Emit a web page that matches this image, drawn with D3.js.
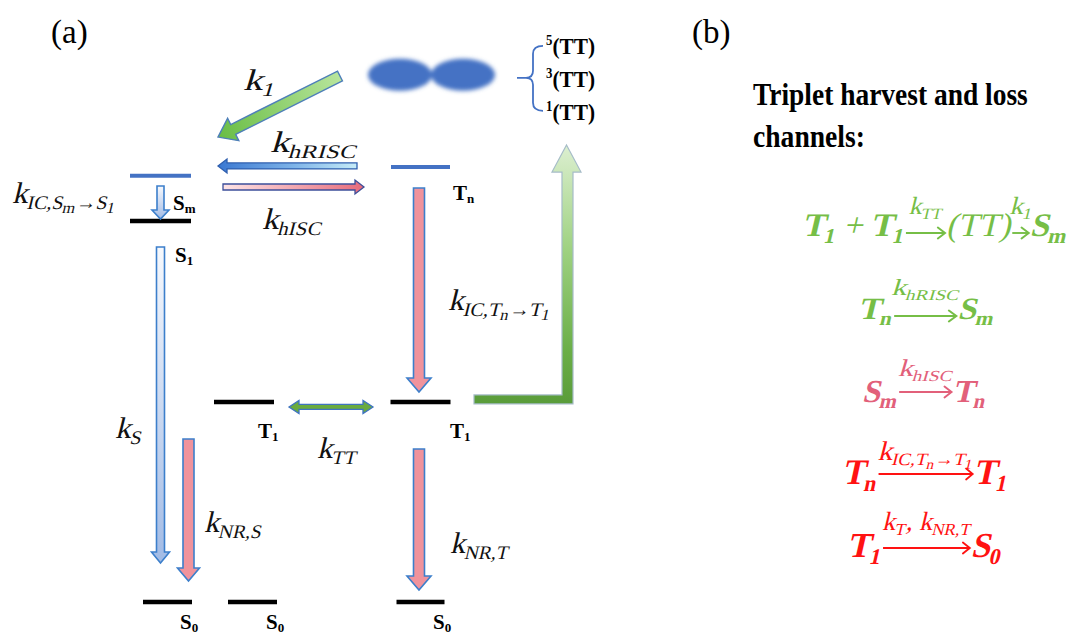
<!DOCTYPE html>
<html><head><meta charset="utf-8">
<script src="https://cdn.jsdelivr.net/npm/d3@7"></script>
<style>body{margin:0;background:#fff}svg{display:block}</style>
</head><body><svg id="c" width="1070" height="637"></svg>
<script>
// ================= DATA =================
// energy levels of the Jablonski diagram (energy in arbitrary units)
const levelIds      = ["Sm","S1","Tn","T1a","T1b","S0a","S0b","S0c"];
const levelSymbols  = ["S","S","T","T","T","S","S","S"];
const levelSubs     = ["m","1","n","1","1","0","0","0"];
const levelEnergies = [2.45, 2.19, 2.5, 1.15, 1.15, 0, 0, 0];
const levelColumns  = ["S","S","T","TL","T","S0L","S0M","T"];

// transitions: [id, startEnergy, endEnergy]
const transIds     = ["icS","kS","kNRS","kICT","kNRT","hRISC","hISC","kTT","k1","harvest"];
const transStartE  = [2.391, 2.040, 0.937, 2.379, 0.879, 2.506, 2.385, 1.121, 3.023, 1.164];
const transEndE    = [2.201, 0.224, 0.121, 1.207, 0.069, 2.506, 2.385, 1.121, 2.672, 2.626];

// rate-constant labels: parts [text, mode]
const rateLabels = [
  {id:"k1",     parts:[["k",""],["1","sub"]]},
  {id:"khRISC", parts:[["k",""],["hRISC","sub"]]},
  {id:"khISC",  parts:[["k",""],["hISC","sub"]]},
  {id:"kICS",   parts:[["k",""],["IC,S","sub"],["m","sub2"],["\u2192S","sub"],["1","sub2"]]},
  {id:"kICT",   parts:[["k",""],["IC,T","sub"],["n","sub2"],["\u2192T","sub"],["1","sub2"]]},
  {id:"kS",     parts:[["k",""],["S","sub"]]},
  {id:"kNRS",   parts:[["k",""],["NR,S","sub"]]},
  {id:"kTT",    parts:[["k",""],["TT","sub"]]},
  {id:"kNRT",   parts:[["k",""],["NR,T","sub"]]}
];
const ttStates = [["5","(TT)"],["3","(TT)"],["1","(TT)"]];
const titleLines = ["Triplet harvest and loss","channels:"];
const equations = [
  {color:"green", items:[{t:[["T",""],["1","sub"]]},{t:[["\u2009+\u2009",""]],light:true},{t:[["T",""],["1","sub"]]},
     {arrow:[["k",""],["TT","sub"]]},{t:[["(TT)",""]],light:true},{arrow:[["k",""],["1","sub"]]},{t:[["S",""],["m","sub"]]}]},
  {color:"green", items:[{t:[["T",""],["n","sub"]]},{arrow:[["k",""],["hRISC","sub"]]},{t:[["S",""],["m","sub"]]}]},
  {color:"pink",  items:[{t:[["S",""],["m","sub"]]},{arrow:[["k",""],["hISC","sub"]]},{t:[["T",""],["n","sub"]]}]},
  {color:"red",   items:[{t:[["T",""],["n","sub"]]},{arrow:[["k",""],["IC,T","sub"],["n","sub2"],["\u2192T","sub"],["1","sub2"]]},{t:[["T",""],["1","sub"]]}]},
  {color:"red",   items:[{t:[["T",""],["1","sub"]]},{arrow:[["k",""],["T","sub"],[", k",""],["NR,T","sub"]]},{t:[["S",""],["0","sub"]]}]}
];

// ================= LAYOUT / STYLE =================
const svg = d3.select("#c");
const defs = svg.append("defs");
const y = d3.scaleLinear().domain([0, 2.5]).range([602, 167]);
const colX = d3.scaleOrdinal().domain(["S","TL","T","S0L","S0M"]).range([160.5, 244, 420.5, 167.5, 252.5]);
const levelWidth = {Sm:61, S1:61, Tn:59, T1a:60, T1b:60, S0a:49, S0b:49, S0c:48};
const levelLabelOff = {Sm:[12.5,34], S1:[14.5,41], Tn:[32.5,33], T1a:[14,36], T1b:[29.5,36], S0a:[12.5,27], S0b:[13.5,27], S0c:[12.5,27]};
const serif = "'Liberation Serif', 'Times New Roman', serif";
const SKEW = "skewX(-13)";   // synthetic math italic
const eqColor = {green:"#76be46", pink:"#e2607a", red:"#ff1212"};

function grad(id, x1, y1, x2, y2, stops) {
  const g = defs.append("linearGradient").attr("id", id).attr("gradientUnits","userSpaceOnUse")
    .attr("x1",x1).attr("y1",y1).attr("x2",x2).attr("y2",y2);
  stops.forEach(([o,c]) => g.append("stop").attr("offset",o).attr("stop-color",c));
  return `url(#${id})`;
}
function blockArrow(x1,y1,x2,y2,sw,hw,hl,dbl) {
  const dx=x2-x1, dy=y2-y1, L=Math.hypot(dx,dy), ux=dx/L, uy=dy/L, px=-uy, py=ux;
  const pts = !dbl
    ? [[0,-sw/2],[L-hl,-sw/2],[L-hl,-hw/2],[L,0],[L-hl,hw/2],[L-hl,sw/2],[0,sw/2]]
    : [[0,0],[hl,-hw/2],[hl,-sw/2],[L-hl,-sw/2],[L-hl,-hw/2],[L,0],[L-hl,hw/2],[L-hl,sw/2],[hl,sw/2],[hl,hw/2]];
  return d3.line()(pts.map(([a,c]) => [x1+ux*a+px*c, y1+uy*a+py*c])) + "Z";
}
const modes = {"":{f:1,d:0}, sub:{f:0.64,d:0.2}, sub2:{f:0.52,d:0.34}, sup:{f:0.6,d:-0.4}};
function rich(parent, parts, size, attrs) {
  const t = parent.append("text").attr("font-size", size);
  Object.entries(attrs||{}).forEach(([k,v]) => t.attr(k,v));
  let cur = 0;
  parts.forEach(([s,m]) => {
    const c = modes[m];
    t.append("tspan").attr("font-size", size*c.f).attr("dy", size*c.d - cur).text(s);
    cur = size*c.d;
  });
  return t;
}
function place(t, x, yy, w, extra) {
  const bb = t.node().getBBox();
  const sx = w ? w / bb.width : 1;
  t.attr("transform", `translate(${x - bb.x*sx},${yy}) scale(${sx},1) ${extra||""}`);
}

// ---------- blurred (TT) pair ----------
const blur = defs.append("filter").attr("id","blur").attr("x","-30%").attr("y","-50%").attr("width","160%").attr("height","200%");
blur.append("feGaussianBlur").attr("stdDeviation", 2.2);
const blob = svg.append("g").attr("filter","url(#blur)").attr("fill","#4472c4");
[400, 463].forEach(cx => blob.append("ellipse").attr("cx",cx).attr("cy",y(3.03)).attr("rx",32).attr("ry",16));

// brace
const by = y(3.03)+3;
svg.append("path").attr("fill","none").attr("stroke","#4472c4").attr("stroke-width",1.8)
  .attr("d",`M543,${by-32} Q533,${by-32} 533,${by-24} L533,${by-7} Q533,${by} 526,${by} L517,${by} M526,${by} Q533,${by} 533,${by+7} L533,${by+25} Q533,${by+33} 543,${by+33}`);
ttStates.forEach(([s,txt],i) => {
  const t = rich(svg, [[s,"sup"],[txt,""]], 23, {"font-family":serif, "font-weight":"bold"});
  place(t, 546, 54 + i*33, 49);
});

// ---------- levels ----------
levelIds.forEach((id,i) => {
  const cx = colX(levelColumns[i]), w = levelWidth[id], yy = y(levelEnergies[i]);
  const upper = id==="Sm" || id==="Tn";
  svg.append("line").attr("x1",cx-w/2).attr("x2",cx+w/2).attr("y1",yy).attr("y2",yy)
    .attr("stroke", upper ? "#4472c4" : "#000").attr("stroke-width", upper ? 4 : 4.5);
  const off = levelLabelOff[id];
  const t = svg.append("text").attr("font-family",serif).attr("font-weight","bold").attr("font-size",21)
    .attr("x", cx+off[0]).attr("y", yy+off[1]);
  t.append("tspan").text(levelSymbols[i]);
  t.append("tspan").attr("font-size",13).attr("dy",3).text(levelSubs[i]);
});

// ---------- transitions ----------
const T = Object.fromEntries(transIds.map((id,i) => [id,{E0:transStartE[i],E1:transEndE[i]}]));
const arrowStroke = "#3c7fcb";
const vert = [
  {id:"icS",  x:colX("S"),        sw:7,  hw:17, hl:9,  fill:"bl"},
  {id:"kS",   x:colX("S"),        sw:8,  hw:18, hl:11, fill:"bl"},
  {id:"kNRS", x:colX("S")+28,     sw:11, hw:22, hl:13, fill:"pk"},
  {id:"kICT", x:colX("T")-1.5,    sw:11, hw:24, hl:14, fill:"pk"},
  {id:"kNRT", x:colX("T")-1.5,    sw:11, hw:24, hl:14, fill:"pk"}
];
vert.forEach(a => {
  const y0 = y(T[a.id].E0), y1 = y(T[a.id].E1);
  const fill = a.fill==="bl" ? grad("g_"+a.id, 0, y0, 0, y1, [[0,"#f7f9fd"],[1,"#a2bbe5"]]) : "#f0939c";
  svg.append("path").attr("d", blockArrow(a.x, y0, a.x, y1, a.sw, a.hw, a.hl))
    .attr("fill", fill).attr("stroke", arrowStroke).attr("stroke-width", 1.6).attr("stroke-linejoin","miter");
});
{
  const yR = y(T.hRISC.E0);
  svg.append("path").attr("d", blockArrow(357, yR, 218, yR, 6, 14, 9))
    .attr("fill", grad("g_hr", 218, 0, 357, 0, [[0,"#3a78d2"],[0.55,"#7fb4e8"],[1,"#c6ecf8"]]))
    .attr("stroke","#2f5fae").attr("stroke-width",1.3);
  const yI = y(T.hISC.E0);
  svg.append("path").attr("d", blockArrow(223, yI, 364, yI, 6, 14, 9))
    .attr("fill", grad("g_hi", 223, 0, 364, 0, [[0,"#fde4e6"],[1,"#e76b7b"]]))
    .attr("stroke","#3d4f9a").attr("stroke-width",1.3);
  const yT = y(T.kTT.E0);
  svg.append("path").attr("d", blockArrow(289, yT, 373, yT, 5, 13, 10, true))
    .attr("fill","#6aab3e").attr("stroke","#3f74c0").attr("stroke-width",1.3);
}
{
  const x0 = 340, y0 = y(T.k1.E0), x1 = 218, y1 = y(T.k1.E1);
  svg.append("path").attr("d", blockArrow(x0, y0, x1, y1, 11, 25, 17))
    .attr("fill", grad("g_k1", x0, y0, x1, y1, [[0,"#b8e59c"],[1,"#69bd45"]]))
    .attr("stroke","#4e7fb9").attr("stroke-width",1.4);
}
{
  const yb = y(T.harvest.E0), yt = y(T.harvest.E1);
  const pts = [[474,yb-4.5],[562,yb-4.5],[562,yt+27],[552,yt+27],[566.5,yt],[581,yt+27],[573,yt+27],[573,yb+4.5],[474,yb+4.5]];
  svg.append("path").attr("d", d3.line()(pts)+"Z")
    .attr("fill", grad("g_h", 0, yt, 0, yb+4, [[0,"#dcefd0"],[0.4,"#9fd282"],[0.8,"#6aae47"],[1,"#5a9c3a"]]))
    .attr("stroke","#a6bcc8").attr("stroke-width",1.2);
}

// ---------- rate labels ----------
const rateLayout = {k1:[243,90,32], khRISC:[270,152,87], khISC:[262,229,60], kICS:[12,203,104],
  kICT:[448,310,103], kS:[115,438,27], kNRS:[204,532,58], kTT:[317,458,40], kNRT:[450,553,59]};
rateLabels.forEach(r => {
  const t = rich(svg, r.parts, 30, {"font-family":serif, fill:"#111"});
  const [x, yy, w] = rateLayout[r.id];
  place(t, x, yy, w, SKEW);
});

// ---------- panel labels ----------
svg.append("text").attr("x",51).attr("y",43).attr("font-family",serif).attr("font-size",33).text("(a)");
svg.append("text").attr("x",692).attr("y",43).attr("font-family",serif).attr("font-size",33).text("(b)");

// ---------- panel (b) ----------
[[0,105,275],[1,147,112]].forEach(([i,yy,w]) => {
  const t = svg.append("text").attr("font-family",serif).attr("font-weight","bold").attr("font-size",31).text(titleLines[i]);
  place(t, 753, yy, w);
});
const eqLayout = [
  {x:802, y:236, w:266, size:33, ady:3,  arrows:[40,18], gap:19},
  {x:858, y:319, w:137, size:31, ady:3,  arrows:[60],    gap:21},
  {x:862, y:402, w:125, size:32, ady:10, arrows:[54],    gap:16},
  {x:842, y:484, w:166, size:36, ady:10, arrows:[102],   gap:14},
  {x:847, y:557, w:155, size:35, ady:9,  arrows:[90],    gap:18}
];
const eqLabelW = [[33,22],[64],[55],[102],[90]];
equations.forEach((eq,ei) => {
  const L = eqLayout[ei], col = eqColor[eq.color];
  const g = svg.append("g").attr("fill", col);
  let cx = 0, ai = 0;
  eq.items.forEach(it => {
    if (it.arrow) {
      const len = L.arrows[ai], ay = -L.ady;
      g.append("path").attr("d", `M${cx+1},${ay}H${cx+len-1.5}`).attr("stroke",col).attr("stroke-width",1.9).attr("fill","none");
      g.append("path").attr("d", `M${cx+len-8},${ay-5.5}L${cx+len-1},${ay}L${cx+len-8},${ay+5.5}`)
        .attr("stroke",col).attr("stroke-width",1.9).attr("fill","none").attr("stroke-linecap","round");
      const lt = rich(g, it.arrow, L.size*0.75, {"font-family":serif});
      const lw = eqLabelW[ei][ai];
      const bb = lt.node().getBBox();
      const sx = lw / bb.width;
      lt.attr("transform", `translate(${cx + len/2 - lw/2 - bb.x*sx},${ay - L.gap}) scale(${sx},1) ${SKEW}`);
      cx += len; ai++;
    } else {
      const t = rich(g, it.t, L.size, {"font-family":serif, "font-weight": it.light ? "normal" : "bold", x: cx});
      t.attr("transform", SKEW);
      const bb = t.node().getBBox();
      cx = bb.x + bb.width + 1;
    }
  });
  const sx = L.w / cx;
  g.attr("transform", `translate(${L.x},${L.y}) scale(${sx},1)`);
});
</script></body></html>
